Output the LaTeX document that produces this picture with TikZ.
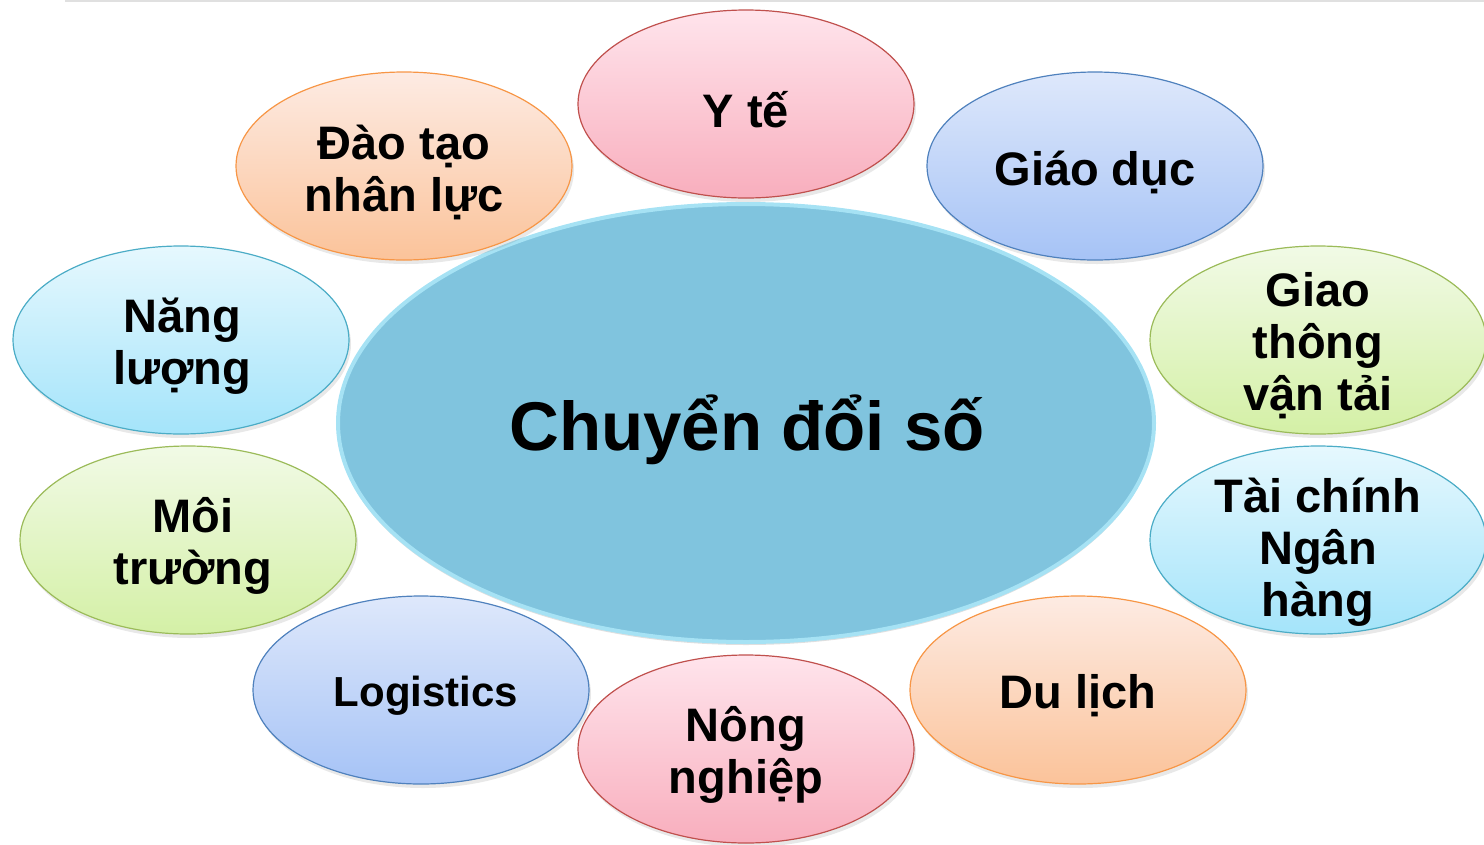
\documentclass[tikz,border=0pt]{standalone}
\usepackage{fontspec}
\setmainfont{Liberation Sans}
\usepackage{tikz}
\usetikzlibrary{shapes.geometric,shadows}
\definecolor{pinkTop}{HTML}{FFE4EC}
\definecolor{pinkBot}{HTML}{F8AEBD}
\definecolor{pinkLine}{HTML}{C0504D}
\definecolor{blueTop}{HTML}{DEE8FB}
\definecolor{blueBot}{HTML}{A6C3F6}
\definecolor{blueLine}{HTML}{4F81BD}
\definecolor{peachTop}{HTML}{FDEBE3}
\definecolor{peachBot}{HTML}{FBC39A}
\definecolor{peachLine}{HTML}{F79646}
\definecolor{skyTop}{HTML}{E6F8FE}
\definecolor{skyBot}{HTML}{A4E4FA}
\definecolor{skyLine}{HTML}{4BACC6}
\definecolor{limeTop}{HTML}{F1FAE6}
\definecolor{limeBot}{HTML}{D4F0A6}
\definecolor{limeLine}{HTML}{9BBB59}
\definecolor{coreFill}{HTML}{80C4DE}
\definecolor{coreRim}{HTML}{A6E2F4}
\newcommand{\bubble}[5][]{%
  \shade[#4] (#3) ellipse (168 and 94);
  \node[label text,#1] (#2) at (#3) {#5};}

\begin{document}
\begin{tikzpicture}[x=1pt,y=-1pt,
    oval/.style={line width=1.2pt,drop shadow={opacity=0.18,shadow xshift=2pt,shadow yshift=-4pt}},
    pinkoval/.style={oval,top color=pinkTop,bottom color=pinkBot,draw=pinkLine},
    blueoval/.style={oval,top color=blueTop,bottom color=blueBot,draw=blueLine},
    peachoval/.style={oval,top color=peachTop,bottom color=peachBot,draw=peachLine},
    skyoval/.style={oval,top color=skyTop,bottom color=skyBot,draw=skyLine},
    limeoval/.style={oval,top color=limeTop,bottom color=limeBot,draw=limeLine},
    label text/.style={align=center,inner sep=0pt,yshift=-6pt,font=\fontsize{47}{52}\selectfont\bfseries}]
  \useasboundingbox (0,0) rectangle (1484,844);
  \draw[black!12,line width=2pt] (65,1) -- (1484,1);
  % centre
  \fill[coreFill,draw=coreRim,line width=4pt,drop shadow={opacity=0.25,shadow xshift=0pt,shadow yshift=-3pt}] (746,423) ellipse (408 and 219);
  \node[font=\fontsize{69}{78}\selectfont\bfseries] (core) at (747,430) {Chuyển đổi số};
  % ring of sectors
  \bubble{yte}{746,104}{pinkoval}{Y tế}
  \bubble{giaoduc}{1095,166}{blueoval}{Giáo dục}
  \bubble{daotao}{404,166}{peachoval}{Đào tạo\\nhân lực}
  \bubble[xshift=1pt]{nangluong}{181,340}{skyoval}{Năng\\lượng}
  \bubble{giaothong}{1318,340}{limeoval}{Giao\\thông\\vận tải}
  \bubble[xshift=5pt]{moitruong}{188,540}{limeoval}{Môi\\trường}
  \bubble[yshift=-6pt]{taichinh}{1318,540}{skyoval}{Tài chính\\Ngân\\hàng}
  \bubble[xshift=5pt,font=\fontsize{42}{48}\selectfont\bfseries]{logistics}{421,690}{blueoval}{Logistics}
  \bubble{dulich}{1078,690}{peachoval}{Du lịch}
  \bubble{nongnghiep}{746,749}{pinkoval}{Nông\\nghiệp}
\end{tikzpicture}
\end{document}
